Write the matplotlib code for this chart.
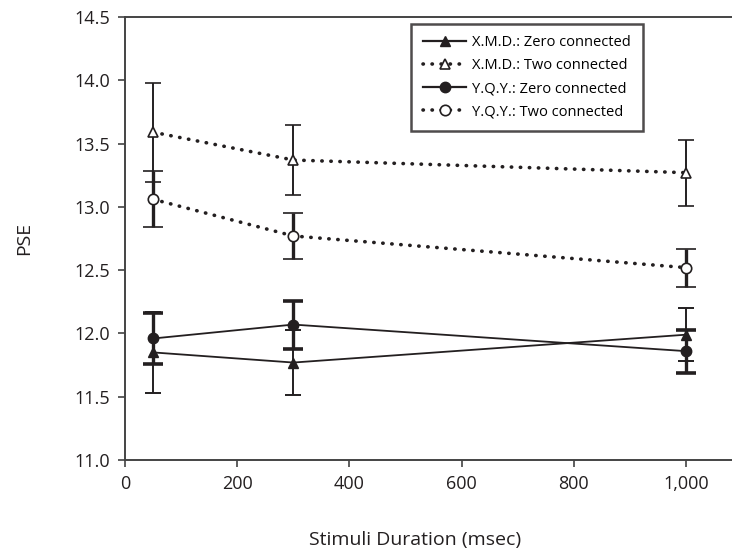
import matplotlib.pyplot as plt
from matplotlib.lines import Line2D

plt.rcParams['font.family'] = ['Open Sans', 'DejaVu Sans']

durations = [50, 300, 1000]

xmd_zero = [11.85, 11.77, 11.99]
xmd_zero_err = [0.32, 0.26, 0.21]
xmd_two = [13.59, 13.37, 13.27]
xmd_two_err = [0.39, 0.28, 0.26]

yqy_zero = [11.96, 12.07, 11.86]
yqy_zero_err = [0.20, 0.19, 0.17]
yqy_two = [13.06, 12.77, 12.52]
yqy_two_err = [0.22, 0.18, 0.15]

x_ticks = [0, 200, 400, 600, 800, 1000]
x_labels = ["0", "200", "400", "600", "800", "1,000"]
y_ticks = [11.0, 11.5, 12.0, 12.5, 13.0, 13.5, 14.0, 14.5]

labels = ["X.M.D.: Zero connected", "X.M.D.: Two connected",
          "Y.Q.Y.: Zero connected", "Y.Q.Y.: Two connected"]

ink = "#231f20"
dotted = (0, (0.1, 2.4))

fig = plt.figure(figsize=(7.32, 5.54), dpi=100)
ax = fig.add_axes([125 / 732, 94 / 554, 607 / 732, 443 / 554])

ax.errorbar(durations, xmd_zero, yerr=xmd_zero_err, color=ink, lw=1.3,
            marker="^", ms=7, mfc=ink, mec=ink, elinewidth=1.4, capsize=6,
            capthick=1.4, zorder=3)
ax.errorbar(durations, xmd_two, yerr=xmd_two_err, color=ink, lw=2.6,
            ls=dotted, dash_capstyle="round", marker="^", ms=7, mfc="white",
            mec=ink, mew=1.2, elinewidth=1.4, capsize=6, capthick=1.4, zorder=3)
ax.errorbar(durations, yqy_zero, yerr=yqy_zero_err, color=ink, lw=1.3,
            marker="o", ms=7.5, mfc=ink, mec=ink, elinewidth=2.4, capsize=7,
            capthick=2.6, zorder=3)
ax.errorbar(durations, yqy_two, yerr=yqy_two_err, color=ink, lw=2.6,
            ls=dotted, dash_capstyle="round", marker="o", ms=7.5, mfc="white",
            mec=ink, mew=1.2, elinewidth=2.4, capsize=7, capthick=2.6, zorder=3)

# legend shows just line + marker, no error bars
handles = [
    Line2D([], [], color=ink, lw=1.6, marker="^", ms=7, mfc=ink, mec=ink),
    Line2D([], [], color=ink, lw=2.6, ls=dotted, dash_capstyle="round",
           marker="^", ms=7, mfc="white", mec=ink, mew=1.2),
    Line2D([], [], color=ink, lw=1.6, marker="o", ms=7.5, mfc=ink, mec=ink),
    Line2D([], [], color=ink, lw=2.6, ls=dotted, dash_capstyle="round",
           marker="o", ms=7.5, mfc="white", mec=ink, mew=1.2),
]

ax.set_xlim(0, 1082)
ax.set_ylim(11.0, 14.5)
ax.set_xticks(x_ticks)
ax.set_xticklabels(x_labels)
ax.set_yticks(y_ticks)
ax.set_yticklabels([f"{v:.1f}" for v in y_ticks])
ax.tick_params(direction="out", length=5, width=1.1, color="#333333",
               labelsize=13, labelcolor=ink, pad=6)

for side in ["left", "bottom", "top"]:
    ax.spines[side].set_color("#444444")
    ax.spines[side].set_linewidth(1.4)
ax.spines["right"].set_visible(False)

leg = ax.legend(handles, labels, loc="upper left",
                bbox_to_anchor=(286 / 607, 0.985), numpoints=1,
                handlelength=3.0, fontsize=10.5, frameon=True, fancybox=False,
                borderpad=0.8, labelspacing=0.55, handletextpad=0.4,
                borderaxespad=0)
leg.get_frame().set_edgecolor(ink)
leg.get_frame().set_linewidth(1.8)

fig.text(24 / 732, 1 - 238 / 554, "PSE", rotation=90, ha="center", va="center",
         fontsize=14, color=ink)
fig.text(415 / 732, 1 - 540 / 554, "Stimuli Duration (msec)", ha="center",
         va="center", fontsize=14, color=ink)

fig.savefig("out.png", dpi=100)
